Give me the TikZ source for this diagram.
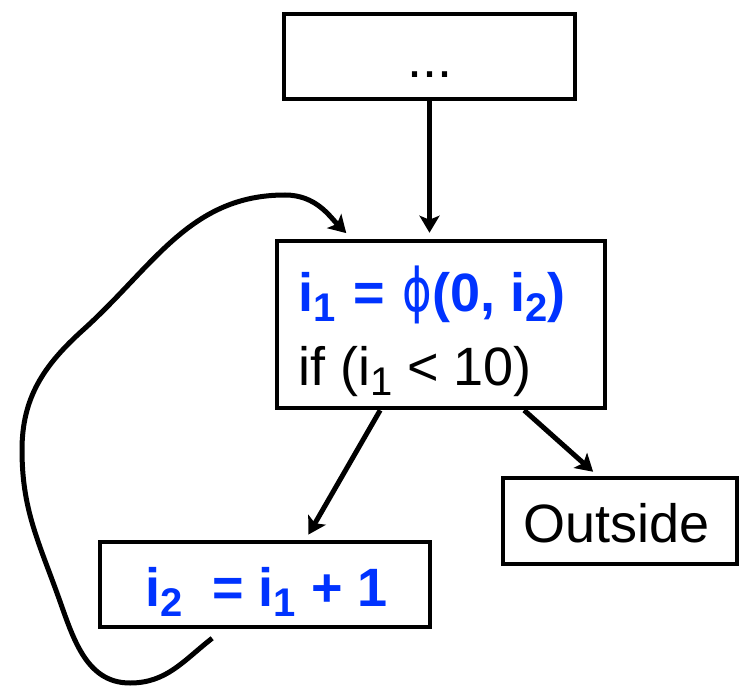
\documentclass[tikz,border=0pt]{standalone}
\usepackage{fontspec}
\setmainfont{Liberation Sans}
\newfontfamily\phifont[FakeStretch=0.75]{DejaVu Sans}
\usetikzlibrary{arrows.meta,calc}
\definecolor{codeblue}{RGB}{0,51,255}
\newcommand\sbx[1]{\raisebox{-10pt}{\fontsize{40}{40}\selectfont #1}}
\tikzset{
  box/.style={draw,rectangle,line width=4.5pt,inner sep=0pt},
  txt/.style={inner sep=0pt,anchor=base west,font=\fontsize{54}{64}\selectfont},
  arrowhd/.style={line width=5pt,-{Stealth[length=17pt,width=20pt,inset=4pt]}}
}
\begin{document}
\begin{tikzpicture}[x=1pt,y=1pt]
\useasboundingbox (0,0) rectangle (743,686);
% boxes
\node[box,minimum width=291pt,minimum height=85pt] (top) at (429.5,629.5) {};
\node[box,minimum width=328pt,minimum height=167pt] (mid) at (441,361.5) {};
\node[box,minimum width=330pt,minimum height=85pt] (bot) at (265,101.5) {};
\node[box,minimum width=234pt,minimum height=86pt] (out) at (620,165) {};
% texts
\node[txt,anchor=base] (dots) at (430,608) {...};
\node[txt,text=codeblue] (l1) at (298,374) {\bfseries i\sbx{1}\hspace{3pt} = \hspace{3pt}{\phifont\mdseries\fontsize{60}{60}\selectfont ϕ}(0, i\sbx{2})};
\node[txt] (l2) at (298,301) {if (i\sbx{1} < 10)};
\node[txt,text=codeblue] (l3) at (145,80) {\bfseries i\sbx{2}\ \ = i\sbx{1} + 1};
\node[txt] (l4) at (523,144) {Outside};
% connector anchors
\coordinate (ms1) at ($(mid.south west)!0.317!(mid.south east)$);
\coordinate (bn) at ($(bot.north west)!0.621!(bot.north east)$);
\coordinate (ms2) at ($(mid.south west)!0.75!(mid.south east)$);
\coordinate (on) at ($(out.north west)!0.406!(out.north east)$);
\coordinate (ls) at ([yshift=-9pt]$(bot.south west)!0.342!(bot.south east)$);
\coordinate (le) at ($(mid.north west)!0.232!(mid.north east)$);
\coordinate (w1) at (130,3);
\coordinate (w2) at (57,93);
\coordinate (w3) at (22,236);
\coordinate (w4) at (83,356);
\coordinate (w5) at (285,491);
% connectors
\draw[arrowhd,shorten >=6pt] (top.south) -- (top.south |- mid.north);
\draw[arrowhd,shorten >=6pt] (ms1) -- (bn);
\draw[arrowhd,shorten >=6pt] (ms2) -- (on);
\draw[arrowhd,shorten >=8pt] (ls) to[out=218,in=0] (w1) to[out=180,in=290] (w2)
  to[out=110,in=270] (w3) to[out=90,in=222] (w4) to[out=42,in=180] (w5)
  to[out=0,in=135] (le);
\end{tikzpicture}
\end{document}
